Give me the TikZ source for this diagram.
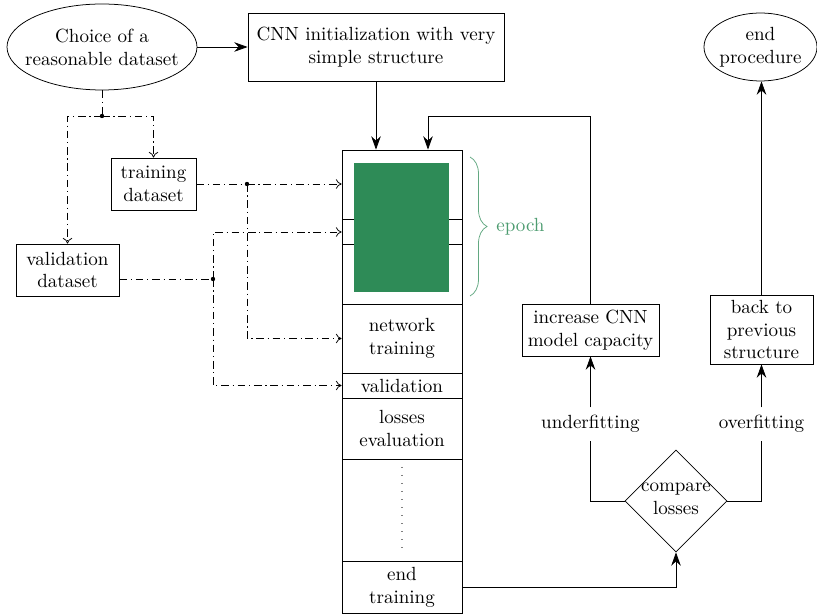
\documentclass[tikz,border=0pt]{standalone}
\usetikzlibrary{arrows.meta,shapes.geometric,decorations.pathreplacing}
\newdimen\px \px=0.525pt
\definecolor{epochgreen}{HTML}{2E8B57}
\begin{document}
\begin{tikzpicture}[x=0.525pt,y=-0.525pt,
  box/.style={draw, rectangle, align=center, inner sep=0pt},
  ell/.style={draw, ellipse, inner sep=0pt},
  lbl/.style={align=center},
  arr/.style={-{Stealth[length=7pt,width=5pt]}},
  ddl/.style={dash pattern=on 4pt off 2pt on 0.6pt off 2pt},
  dd/.style={ddl, -{To[length=3pt,width=5pt]}},
  jdot/.style={fill=black}]
\useasboundingbox (0,0) rectangle (817,614);

% top row
\node[ell, minimum width=190\px, minimum height=86\px] (choice) at (102,47) {};
\node[lbl] (choicetxt) at (choice.center) {Choice of a\\reasonable dataset};
\node[box, minimum width=256\px, minimum height=68\px] (cnn) at (376,47) {CNN initialization with very\\simple structure};
\node[ell, minimum width=113\px, minimum height=68\px] (endp) at (760.5,47) {};
\node[lbl] (endptxt) at (endp.center) {end\\procedure};

% datasets
\node[box, minimum width=85\px, minimum height=52\px] (train) at (153.5,184) {training\\dataset};
\node[box, minimum width=103\px, minimum height=52\px] (vald) at (67.5,270) {validation\\dataset};

% column
\node[box, minimum width=120\px, minimum height=154\px] (sec0) at (402,227) {};
\draw (342,219) -- (462,219);
\draw (342,244) -- (462,244);
\node[fill=epochgreen, inner sep=0pt, minimum width=95\px, minimum height=129\px] (green) at (401.5,227.5) {};
\node[box, minimum width=120\px, minimum height=69\px] (sec1) at (402,338.5) {network\\training};
\node[box, minimum width=120\px, minimum height=25\px] (sec2) at (402,385.5) {validation};
\node[box, minimum width=120\px, minimum height=61\px] (sec3) at (402,428.5) {losses\\evaluation};
\node[box, minimum width=120\px, minimum height=102\px] (sec4) at (402,510) {};
\node[box, minimum width=120\px, minimum height=52\px] (sec5) at (402,587) {end\\training};
\draw[gray, line width=0.6pt, dash pattern=on 0.6pt off 3.6pt] (402,467) -- (402,548);

% epoch brace
\draw[epochgreen!75, decorate, decoration={brace, amplitude=17\px}] (470,157) -- (470,296);
\node[anchor=west, text=epochgreen!85, inner sep=0pt] (epoch) at (496,226.5) {epoch};

% right side
\node[box, minimum width=137\px, minimum height=52\px] (inc) at (590.5,330) {increase CNN\\model capacity};
\node[box, minimum width=103\px, minimum height=69\px] (back) at (761.5,329.5) {back to\\previous\\structure};
\node[inner sep=4pt] (under) at (590.5,424) {underfitting};
\node[inner sep=4pt] (over) at (761.5,424) {overfitting};
\node[draw, diamond, inner sep=0pt, minimum width=102\px, minimum height=102\px] (cmp) at (676,501) {};
\node[lbl] (cmptxt) at (676,499) {compare\\losses};

% solid connectors
\draw[arr] (choice.east) -- (cnn.west);
\draw[arr] (cnn.south) -- (cnn.south |- sec0.north);
\coordinate (lp) at (428,116);
\draw[arr] (inc.north) |- (lp) -- (lp |- sec0.north);
\draw[arr] (sec5.east) -| (cmp.south);
\draw (cmp.west) -| (under.south);
\draw (cmp.east) -| (over.south);
\draw[arr] (under.north) -- (inc.south);
\draw[arr] (over.north) -- (back.south);
\draw[arr] (back.north) -- (back.north |- endp.south);

% dash-dotted connectors
\coordinate (j1) at (102,116);
\draw[ddl] (choice.south) -- (j1);
\draw[dd] (j1) -| (vald.north);
\draw[dd] (j1) -| (train.north);
\fill[jdot] (j1) circle (2.2);

\coordinate (j2) at (247,184);
\draw[ddl] (train.east) -- (j2);
\draw[dd] (j2) -- (j2 -| sec0.west);
\draw[dd] (j2) |- (sec1.west);
\fill[jdot] (j2) circle (2.2);

\coordinate (j3) at (213,279);
\draw[ddl] (vald.east |- j3) -- (j3);
\draw[dd] (j3) |- (sec0.west |- 0,232);
\draw[dd] (j3) |- (sec2.west);
\fill[jdot] (j3) circle (2.2);
\end{tikzpicture}
\end{document}
